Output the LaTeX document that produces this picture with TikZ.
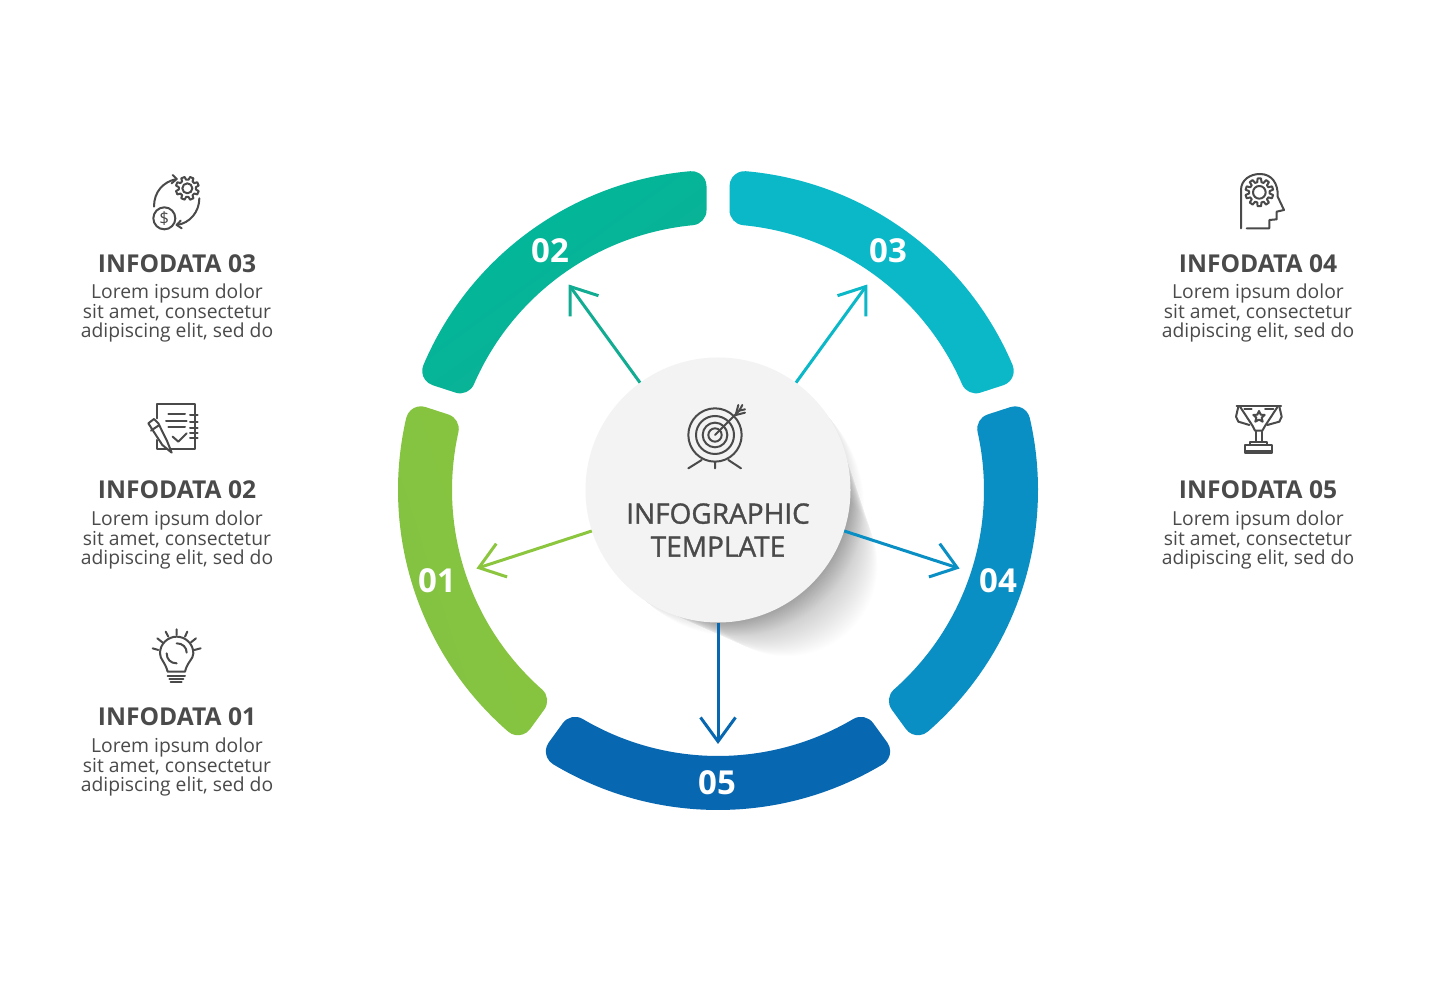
\documentclass[tikz,border=0pt]{standalone}
\usepackage{fontspec}
\setmainfont{Open Sans}
\newfontface\hubfont{Open Sans}[FakeBold=1.2]
\usetikzlibrary{arrows.meta,calc}
\definecolor{cOne}{HTML}{83C341}
\definecolor{cOneB}{HTML}{8CC63F}
\definecolor{cTwo}{HTML}{12AC92}
\definecolor{cTwoB}{HTML}{00B89A}
\definecolor{cThree}{HTML}{0AB8C8}
\definecolor{cFour}{HTML}{0A8FC4}
\definecolor{cFive}{HTML}{0767B1}
\definecolor{ink}{HTML}{4A4A4A}
\definecolor{hubfill}{HTML}{F3F3F3}
\newcommand{\ringseg}[3]{%
 \pgfmathsetmacro{\bA}{#1}\pgfmathsetmacro{\bB}{#1+72}%
 \pgfmathsetmacro{\Ro}{320-15}\pgfmathsetmacro{\Ri}{266+15}%
 \pgfmathsetmacro{\dO}{asin(26.5/\Ro)}\pgfmathsetmacro{\dI}{asin(26.5/\Ri)}%
 \shade[left color=#2,right color=#3,shading angle=#1+126]
  (718,490) ++(\bA+\dO:320) arc[start angle=\bA+\dO,end angle=\bB-\dO,radius=320]
  arc[start angle=\bB-\dO,end angle=\bB+90,radius=15]
  -- ($(718,490)+(\bB-\dI:\Ri)+(\bB+90:15)$)
  arc[start angle=\bB+90,end angle=\bB-\dI+180,radius=15]
  arc[start angle=\bB-\dI,end angle=\bA+\dI,radius=266]
  arc[start angle=\bA+\dI+180,end angle=\bA+270,radius=15]
  -- ($(718,490)+(\bA+\dO:\Ro)+(\bA-90:15)$)
  arc[start angle=\bA-90,end angle=\bA+\dO,radius=15] -- cycle;}
\newcommand{\gearicon}[5]{% x y rOuter rInner teeth
 \begin{scope}[shift={(#1,#2)}]
 \pgfmathsetmacro{\st}{360/#5}
 \draw[iconline] \foreach \k in {1,...,#5}{
   \ifnum\k=1 (\k*\st-\st*0.30:#3)\else -- (\k*\st-\st*0.30:#3)\fi
   -- (\k*\st-\st*0.18:#4) -- (\k*\st+\st*0.18:#4) -- (\k*\st+\st*0.30:#3) } -- cycle;
 \end{scope}}
\tikzset{
 x=1pt,y=1pt,
 iconline/.style={draw=ink,line width=2pt,line cap=round,line join=round},
 iconspace/.style={x=0.33333pt,y=-0.33333pt},
 title/.style={font=\bfseries\fontsize{24.6}{27}\selectfont,text=ink,anchor=center,inner sep=0pt},
 body/.style={font=\fontsize{19.3}{19.4}\selectfont,text=ink,align=center,anchor=north,inner sep=0pt},
 num/.style={font=\bfseries\fontsize{33}{36}\selectfont,text=white,inner sep=0pt},
 hubtext/.style={font=\hubfont\fontsize{28}{33}\selectfont,text=ink,align=center,inner sep=0pt},
 spoke/.style={line width=3pt,-{Straight Barb[length=24pt,width=35pt,line width=3pt]}},
 hubstyle/.style={circle,fill=hubfill,minimum size=265pt,inner sep=0pt},
}
\begin{document}
\begin{tikzpicture}
\useasboundingbox (0,0) rectangle (1435,980);
\fill[white] (0,0) rectangle (1435,980);
% ring
\ringseg{162}{cOneB}{cOne}
\ringseg{90}{cTwo}{cTwoB}
\ringseg{18}{cThree}{cThree}
\ringseg{-54}{cFour}{cFour}
\ringseg{-126}{cFive}{cFive}
\node[num] (n1) at (437,399) {01};
\node[num] (n2) at (550,729) {02};
\node[num] (n3) at (888,729) {03};
\node[num] (n4) at (998,399) {04};
\node[num] (n5) at (717,197) {05};
% shadow
\foreach \i in {0,...,69}{
 \fill[black,opacity=0.0021] ($(718,490)+(\i*1.0,-\i*1.1)$) circle[radius=132-\i*0.6];}
\foreach \i in {0,...,24}{
 \fill[black,opacity=0.0028] ($(718,490)+(\i*0.7,-\i*0.7)$) circle[radius=132-\i*0.1];}
\node[hubstyle] (hub) at (718,490) {};
\node[hubtext] (hubt) at (718,450) {INFOGRAPHIC\\TEMPLATE};
% arrows
\coordinate (t1) at ($(718,490)+(198:254)$);
\coordinate (t2) at ($(718,490)+(126:254)$);
\coordinate (t3) at ($(718,490)+(54:254)$);
\coordinate (t4) at ($(718,490)+(-18:254)$);
\coordinate (t5) at ($(718,490)+(-90:254)$);
\draw[spoke,cOneB] (hub.198) -- (t1);
\draw[spoke,cTwo] (hub.126) -- (t2);
\draw[spoke,cThree] (hub.54) -- (t3);
\draw[spoke,cFour] (hub.-18) -- (t4);
\draw[spoke,cFive] (hub.-90) -- (t5);
% text blocks
\node[title] (h3) at (177,716.5) {INFODATA 03};
\node[body] (b3) at (177,696) {Lorem ipsum dolor\\sit amet, consectetur\\adipiscing elit, sed do};
\node[title] (h2) at (177,490.5) {INFODATA 02};
\node[body] (b2) at (177,469) {Lorem ipsum dolor\\sit amet, consectetur\\adipiscing elit, sed do};
\node[title] (h1) at (177,263.5) {INFODATA 01};
\node[body] (b1) at (177,242) {Lorem ipsum dolor\\sit amet, consectetur\\adipiscing elit, sed do};
\node[title] (h4) at (1258,716.5) {INFODATA 04};
\node[body] (b4) at (1258,696) {Lorem ipsum dolor\\sit amet, consectetur\\adipiscing elit, sed do};
\node[title] (h5) at (1258,490.5) {INFODATA 05};
\node[body] (b5) at (1258,469) {Lorem ipsum dolor\\sit amet, consectetur\\adipiscing elit, sed do};
% icon: target
\begin{scope}[shift={(660,590)},iconspace]
 \foreach \r in {80,57,37,20}{\draw[iconline] (165,135) circle[radius=\r];}
 \draw[iconline] (165,135) -- (238,62);
 \draw[iconline] (235,45) -- (227,75) -- (255,68) (247,45) -- (238,62) -- (255,58);
 \draw[iconline] (125,210) -- (85,235) (165,215) -- (165,235) (205,210) -- (243,235);
\end{scope}
% icon: gear and dollar cycle
\begin{scope}[shift={(130,820)},iconspace]
 \gearicon{172}{85}{35}{26}{8}
 \draw[iconline] (172,85) circle[radius=15];
 \draw[iconline] (103,175) circle[radius=33];
 \node[font=\fontsize{17}{17}\selectfont,text=ink,inner sep=0pt] (dollar) at (103,175) {\$};
 \draw[iconline] (72,140) .. controls (72,95) and (100,65) .. (140,57);
 \draw[iconline] (128,45) -- (140,57) -- (125,70);
 \draw[iconline] (208,115) .. controls (208,155) and (180,190) .. (140,195);
 \draw[iconline] (152,182) -- (140,195) -- (155,205);
\end{scope}
% icon: notepad
\begin{scope}[shift={(130,590)},iconspace]
 \draw[iconline] (82,85) -- (82,42) -- (195,42) -- (195,178) -- (82,178) -- (82,150);
 \draw[iconline] (115,73) -- (165,73) (108,92) -- (170,92) (115,112) -- (165,112);
 \draw[iconline] (128,140) -- (145,155) -- (170,130);
 \foreach \y in {75,95,113,130,145}{\draw[iconline] (180,\y) -- (203,\y);}
 \draw[iconline,fill=white] (55,100) -- (72,87) -- (85,100) -- (112,155) -- (125,188) -- (97,165) -- cycle;
 \draw[iconline] (63,122) -- (85,107);
\end{scope}
% icon: bulb
\begin{scope}[shift={(130,360)},iconspace]
 \draw[iconline] (113,155) .. controls (105,125) and (90,118) .. (90,100) .. controls (90,70) and (115,50) .. (140,50) .. controls (165,50) and (190,70) .. (190,100) .. controls (190,118) and (172,125) .. (165,155) -- cycle;
 \draw[iconline] (113,167) -- (165,167) (118,177) -- (160,177) (122,187) -- (155,187);
 \draw[iconline] (140,28) -- (140,45) (107,35) -- (115,50) (172,35) -- (165,50) (82,55) -- (97,67) (198,55) -- (183,67) (68,85) -- (85,90) (212,85) -- (193,90);
 \draw[iconline] (140,70) .. controls (158,70) and (170,82) .. (170,98);
 \draw[iconline] (110,100) .. controls (110,118) and (122,130) .. (140,130);
\end{scope}
% icon: head with gear
\begin{scope}[shift={(1210,820)},iconspace]
 \draw[iconline] (93,205) -- (93,90) .. controls (93,60) and (120,42) .. (150,42) .. controls (185,42) and (205,70) .. (203,110) -- (222,150) -- (200,155) -- (200,178) -- (178,180) -- (178,205) -- (110,205);
 \gearicon{148}{97}{42}{31}{10}
 \draw[iconline] (148,97) circle[radius=19];
\end{scope}
% icon: trophy
\begin{scope}[shift={(1210,590)},iconspace]
 \draw[iconline] (80,47) -- (213,47) (103,57) -- (125,57) (165,57) -- (190,57);
 \draw[iconline] (90,50) -- (128,108) -- (135,122) -- (157,122) -- (165,108) -- (203,50);
 \draw[iconline] (85,50) -- (78,80) -- (85,95) -- (118,105) (208,50) -- (215,80) -- (208,95) -- (172,105);
 \draw[iconline] (137,125) -- (137,155) (155,125) -- (155,155);
 \draw[iconline] (120,165) -- (120,155) -- (172,155) -- (172,165);
 \draw[iconline] (105,165) rectangle (185,190);
 \fill[ink] (105,180) rectangle (185,190);
 \draw[iconline] (147,63) -- (152,74) -- (164,75) -- (155,83) -- (158,95) -- (147,89) -- (136,95) -- (139,83) -- (130,75) -- (142,74) -- cycle;
\end{scope}
\end{tikzpicture}
\end{document}
